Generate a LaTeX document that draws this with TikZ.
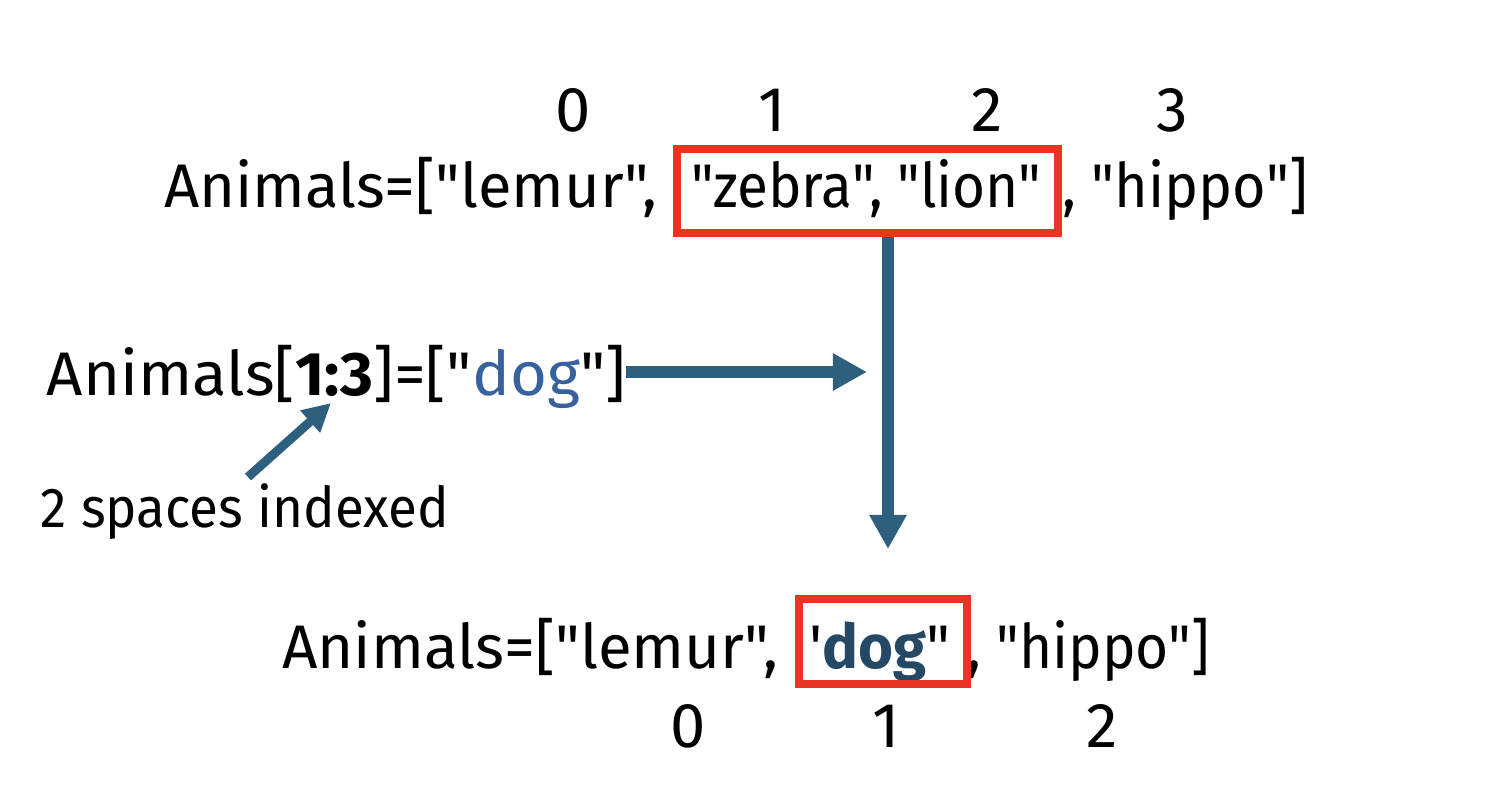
\documentclass[tikz,border=0pt]{standalone}
\usepackage{fontspec}
\newfontfamily\mainf{Fira Sans}
\usetikzlibrary{arrows.meta}
\definecolor{arrowblue}{RGB}{46,95,127}
\definecolor{dogblue}{RGB}{56,98,158}
\definecolor{dogdark}{RGB}{37,72,101}
\definecolor{boxred}{RGB}{233,51,35}
\newcommand\fitw[2]{\resizebox{#1}{\height}{#2}}
\begin{document}
\begin{tikzpicture}[x=0.01cm,y=-0.01cm,
  txt/.style={inner sep=0pt, outer sep=0pt, anchor=base west, font=\mainf\fontsize{17.5}{21}\selectfont},
  idx/.style={inner sep=0pt, anchor=base, font=\mainf\fontsize{18}{21}\selectfont},
  redbox/.style={draw=boxred, line width=0.08cm, inner sep=0pt},
  bigarrow/.style={draw=arrowblue, line width=0.12cm, -{Triangle[length=0.34cm,width=0.35cm]}},
  smallarrow/.style={draw=arrowblue, line width=0.09cm, -{Triangle[length=0.28cm,width=0.28cm]}}]
\useasboundingbox (0,0) rectangle (1490,799);

% top indices
\node[idx] (t0) at (573,131) {0};
\node[idx] (t1) at (772,131) {1};
\node[idx] (t2) at (987,131) {2};
\node[idx] (t3) at (1172,131) {3};

% top line
\node[txt] (a1) at (164,207) {\fitw{4.93cm}{Animals=["lemur",}};
\node[txt] (a2) at (691,207) {\fitw{3.50cm}{"zebra", "lion"}};
\node[txt, anchor=base east] (a3) at (1308,207) {\fitw{2.45cm}{, "hippo"]}};
\node[redbox, minimum width=3.81cm, minimum height=0.84cm] (box1) at (867.5,191) {};

% middle line
\node[txt] (mid) at (47,395) {\fitw{5.79cm}{Animals[\textbf{1:3}]=["{\color{dogblue}dog}"]}};
\node[txt] (lab) at (41,527) {\fitw{4.08cm}{\fontsize{16}{19}\selectfont 2 spaces indexed}};

% bottom line
\node[txt] (b1) at (282,668) {\fitw{4.96cm}{Animals=["lemur",}};
\node[txt] (b2) at (809,668) {\fitw{1.41cm}{'\textbf{\color{dogdark}dog}"}};
\node[txt, anchor=base east] (b3) at (1210,668) {\fitw{2.42cm}{, "hippo"]}};
\node[redbox, minimum width=1.68cm, minimum height=0.85cm] (box2) at (883,641.5) {};

% bottom indices
\node[idx] (u0) at (688,747) {0};
\node[idx] (u1) at (886,747) {1};
\node[idx] (u2) at (1102,747) {2};

% arrows
\coordinate (vtip) at (888,549);
\coordinate (htip) at (867,372);
\coordinate (stail) at (248,477);
\coordinate (stip) at (331,403);
\draw[bigarrow] (box1.south -| vtip) -- (vtip);
\draw[bigarrow] (mid.east |- htip) -- (htip);
\draw[smallarrow] (stail) -- (stip);
\end{tikzpicture}
\end{document}
